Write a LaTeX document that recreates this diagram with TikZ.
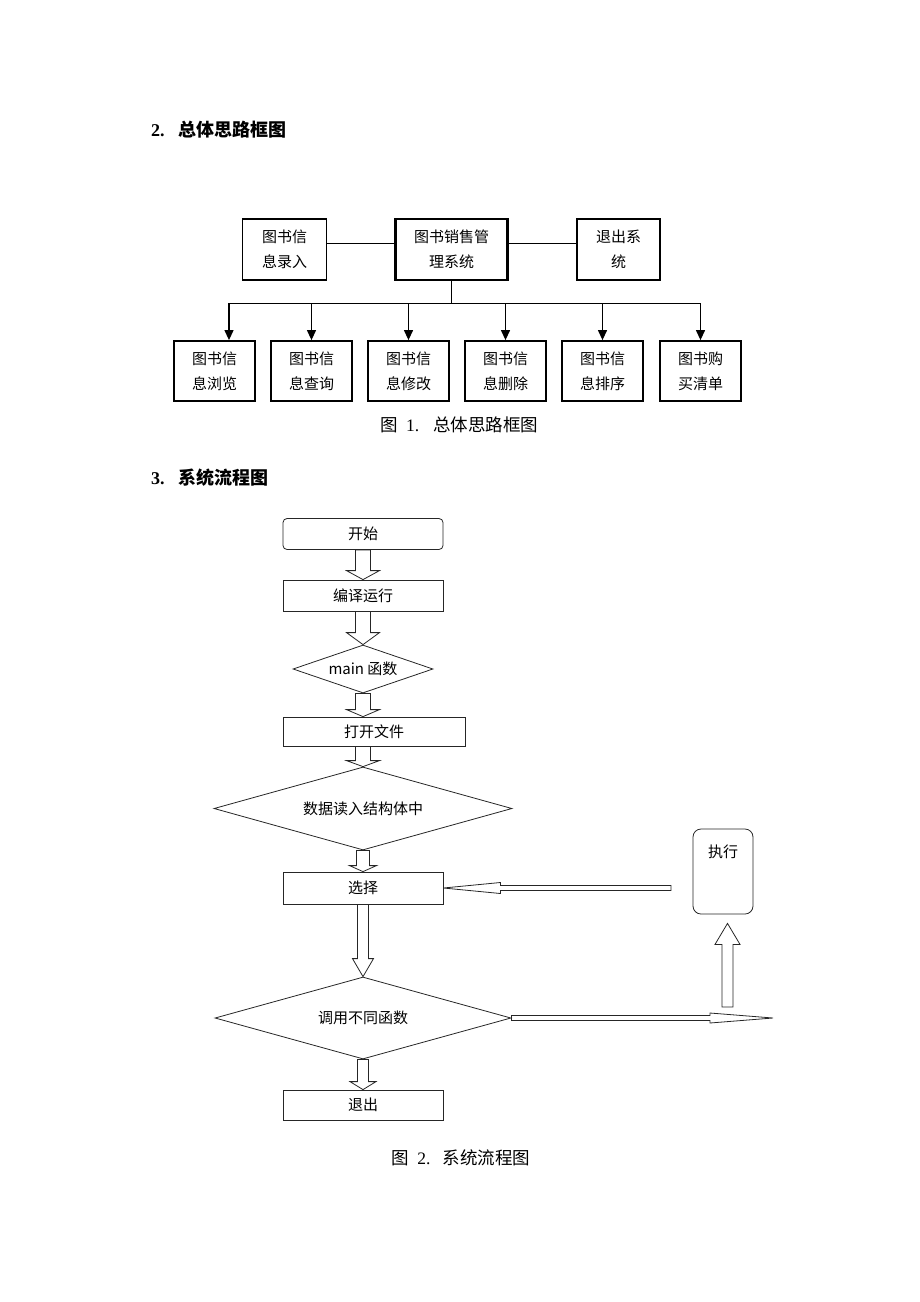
\documentclass[tikz,border=0pt]{standalone}
\usepackage{fontspec}
\setmainfont{Liberation Serif}
\newfontfamily\cjk{Noto Sans CJK SC}
\usetikzlibrary{calc,shapes.geometric,arrows.meta}

\begin{document}
\begin{tikzpicture}[x=1pt,y=-1pt,
  every node/.style={inner sep=0pt},
  heading/.style={anchor=west,font=\fontsize{18pt}{22pt}\selectfont\bfseries},
  caption/.style={font=\fontsize{17.5pt}{21pt}\selectfont},
  topbox/.style={draw,line width=1.6pt,minimum height=61pt,align=center,
    font=\cjk\fontsize{15pt}{25pt}\selectfont},
  subbox/.style={topbox,line width=1.8pt,minimum width=81pt,minimum height=60pt},
  thinline/.style={line width=1pt},
  toparrow/.style={line width=1.2pt,-{Triangle[length=10pt,width=9pt]}},
  flowline/.style={line width=0.8pt,draw=black!85},
  procbox/.style={flowline,draw,minimum width=160pt,minimum height=31pt,
    font=\cjk\fontsize{15pt}{18pt}\selectfont},
  flowdia/.style={flowline,draw,diamond,aspect=3.6,minimum width=296pt,minimum height=82pt,
    font=\cjk\fontsize{15pt}{18pt}\selectfont}]
\newcommand{\colx}{363}
% hollow block arrow: from, to, shaft half width, head half width, head length
\newcommand{\hollowarrow}[5]{%
  \coordinate (ha-base) at ($(#2)!#5!(#1)$);
  \draw[flowline] ($(#1)!#3!90:(#2)$) -- ($(ha-base)!#3!90:(#2)$)
    -- ($(ha-base)!#4!90:(#2)$) -- (#2) -- ($(ha-base)!#4!-90:(#2)$)
    -- ($(ha-base)!#3!-90:(#2)$) -- ($(#1)!#3!-90:(#2)$) -- cycle;}

\useasboundingbox (0,0) rectangle (920,1302);

% headings
\node[heading] (head2) at (151,130) {2.\hspace{14pt}{\cjk 总体思路框图}};
\node[heading] (head3) at (151,478) {3.\hspace{14pt}{\cjk 系统流程图}};

% figure 1
\node[topbox,minimum width=84pt] (luru) at (284.5,249.5) {图书信\\息录入};
\node[topbox,line width=2.8pt,minimum width=112pt] (xitong) at (451.5,249.5) {图书销售管\\理系统};
\node[topbox,minimum width=83pt] (tuichuxt) at (618.5,249.5) {退出系\\统};
\draw[thinline] ([yshift=6pt]luru.east) -- ([yshift=6pt]xitong.west);
\draw[thinline] ([yshift=6pt]xitong.east) -- ([yshift=6pt]tuichuxt.west);

\foreach \n/\x/\txt in {liulan/214.5/{图书信\\息浏览},chaxun/311.5/{图书信\\息查询},
    xiugai/408.5/{图书信\\息修改},shanchu/505.5/{图书信\\息删除},
    paixu/602.5/{图书信\\息排序},goumai/700.5/{图书购\\买清单}}
  \node[subbox] (\n) at (\x,371) {\txt};

\coordinate (bus) at (451.5,303);
\coordinate (busl) at (229,303);
\draw[thinline] (xitong.south) -- (bus);
\draw[thinline] (busl) -- (busl -| goumai.north);
\draw[toparrow] (busl) -- (busl |- liulan.north);
\foreach \n in {chaxun,xiugai,shanchu,paixu,goumai}
  \draw[toparrow] (\n.north |- bus) -- (\n.north);

\node[caption] (cap1) at (459.5,425) {{\cjk 图}\hspace{8pt}1.\hspace{14pt}{\cjk 总体思路框图}};

% figure 2
\node[procbox,rounded corners=4pt] (kaishi) at (\colx,534) {开始};
\node[procbox] (bianyi) at (\colx,595.5) {编译运行};
\node[flowdia,aspect=2.9,minimum width=140pt,minimum height=48pt] (mainf) at (\colx,669) {main 函数};
\node[procbox,minimum width=182pt,minimum height=29pt] (dakai) at (374,731.5) {打开文件};
\node[flowdia,minimum width=298pt,minimum height=83pt] (shuju) at (\colx,808.5) {数据读入结构体中};
\node[procbox,minimum height=32pt] (xuanze) at (\colx,888) {选择};
\node[flowdia] (diaoyong) at (\colx,1018) {调用不同函数};
\node[procbox,minimum height=30pt] (tuichu) at (\colx,1105) {退出};
\node[flowline,draw,rounded corners=8pt,minimum width=60pt,minimum height=85pt,
  label={[anchor=north,yshift=-16pt,font=\cjk\fontsize{15pt}{18pt}\selectfont]north:执行}]
  (zhixing) at (723,871.5) {};

\coordinate (dk-in) at (mainf.south |- dakai.north);
\coordinate (dk-out) at (dakai.south -| shuju.north);
\coordinate (upstart) at (727.5,1007);
\coordinate (uptip) at ([shift={(4.5pt,-9pt)}]zhixing.south);
\coordinate (backstart) at (671,888);
\coordinate (outtip) at (773,1018);

\hollowarrow{kaishi.south}{bianyi.north}{7.5pt}{16.5pt}{9pt}
\hollowarrow{bianyi.south}{mainf.north}{7.5pt}{16.5pt}{12pt}
\hollowarrow{mainf.south}{dk-in}{7.5pt}{16.5pt}{7pt}
\hollowarrow{dk-out}{shuju.north}{7.5pt}{16.5pt}{6pt}
\hollowarrow{shuju.south}{xuanze.north}{6.5pt}{13.5pt}{6pt}
\hollowarrow{xuanze.south}{diaoyong.north}{5.5pt}{10.5pt}{18pt}
\hollowarrow{diaoyong.south}{tuichu.north}{5.5pt}{13pt}{8pt}
\hollowarrow{diaoyong.east}{outtip}{2.5pt}{5pt}{63pt}
\hollowarrow{upstart}{uptip}{5.5pt}{12.5pt}{21pt}
\hollowarrow{backstart}{xuanze.east}{2.5pt}{5.5pt}{57pt}

\node[caption] (cap2) at (461,1158) {{\cjk 图}\hspace{8pt}2.\hspace{12pt}{\cjk 系统流程图}};
\end{tikzpicture}
\end{document}
